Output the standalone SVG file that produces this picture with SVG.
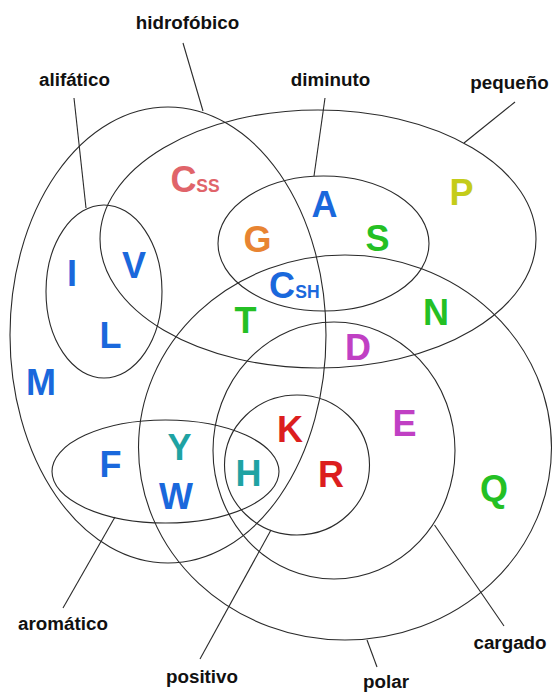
<svg xmlns="http://www.w3.org/2000/svg" width="553" height="692" viewBox="0 0 553 692">
  <style>
    .set { fill: none; stroke: #2a2a2a; stroke-width: 1.1; }
    .lead { fill: none; stroke: #2a2a2a; stroke-width: 1.1; }
    .lbl { font-family: "Liberation Sans", Arial, Helvetica, sans-serif; font-weight: bold; font-size: 18.8px; fill: #111; text-anchor: middle; }
    .aa { font-family: "Liberation Sans", Arial, Helvetica, sans-serif; font-weight: bold; font-size: 36px; text-anchor: middle; }
    .sub { font-family: "Liberation Sans", Arial, Helvetica, sans-serif; font-weight: bold; font-size: 17.5px; text-anchor: middle; }
    .blue { fill: #1a68dc; }
    .green { fill: #24c024; }
    .red { fill: #dc1e1e; }
    .pink { fill: #e0646a; }
    .orange { fill: #e88432; }
    .olive { fill: #c4cc1a; }
    .magenta { fill: #c040c4; }
    .teal { fill: #1fa3a3; }
  </style>
  <rect width="553" height="692" fill="#ffffff"/>

  <!-- property sets -->
  <g id="hidrofobico"><ellipse class="set" cx="168" cy="335" rx="158" ry="228"/></g>
  <g id="pequeno"><ellipse class="set" cx="318" cy="239" rx="218" ry="129"/></g>
  <g id="diminuto"><ellipse class="set" cx="323.5" cy="243.5" rx="105.5" ry="67.5"/></g>
  <g id="alifatico"><ellipse class="set" cx="104" cy="291.5" rx="58" ry="86.5"/></g>
  <g id="polar"><ellipse class="set" cx="345" cy="447.5" rx="206.5" ry="192.5"/></g>
  <g id="cargado"><ellipse class="set" cx="334" cy="450.5" rx="121" ry="128.5"/></g>
  <g id="positivo"><ellipse class="set" cx="297" cy="465" rx="72.5" ry="70"/></g>
  <g id="aromatico"><ellipse class="set" cx="165.5" cy="471.5" rx="113.5" ry="51.5"/></g>

  <!-- label leader lines -->
  <g id="connectors">
    <line class="lead" x1="183" y1="43" x2="203" y2="111"/>
    <line class="lead" x1="74" y1="98" x2="86" y2="208"/>
    <line class="lead" x1="325" y1="98" x2="314" y2="176"/>
    <line class="lead" x1="515" y1="102" x2="464" y2="143"/>
    <line class="lead" x1="115" y1="517" x2="63" y2="608"/>
    <line class="lead" x1="271" y1="530" x2="200" y2="659"/>
    <line class="lead" x1="367" y1="640" x2="377" y2="667"/>
    <line class="lead" x1="434.5" y1="525" x2="504" y2="626"/>
  </g>

  <!-- set labels -->
  <g id="labels">
    <text class="lbl" x="187.5" y="29">hidrofóbico</text>
    <text class="lbl" x="74.5" y="86">alifático</text>
    <text class="lbl" x="330.5" y="86">diminuto</text>
    <text class="lbl" x="509.5" y="89">pequeño</text>
    <text class="lbl" x="63" y="630">aromático</text>
    <text class="lbl" x="202" y="683">positivo</text>
    <text class="lbl" x="386" y="688">polar</text>
    <text class="lbl" x="510" y="649">cargado</text>
  </g>

  <!-- amino acids -->
  <g id="Css"><text class="aa pink" x="183.5" y="192">C</text><text class="sub pink" x="208" y="192">SS</text></g>
  <g id="A"><text class="aa blue" x="324.5" y="217">A</text></g>
  <g id="G"><text class="aa orange" x="257.5" y="252">G</text></g>
  <g id="S"><text class="aa green" x="377.5" y="251">S</text></g>
  <g id="P"><text class="aa olive" x="461.5" y="205">P</text></g>
  <g id="Csh"><text class="aa blue" x="282" y="298">C</text><text class="sub blue" x="307.5" y="298">SH</text></g>
  <g id="T"><text class="aa green" x="245.5" y="333">T</text></g>
  <g id="N"><text class="aa green" x="436" y="325">N</text></g>
  <g id="D"><text class="aa magenta" x="358" y="360">D</text></g>
  <g id="I"><text class="aa blue" x="72" y="286">I</text></g>
  <g id="V"><text class="aa blue" x="134" y="278">V</text></g>
  <g id="L"><text class="aa blue" x="110.5" y="348">L</text></g>
  <g id="M"><text class="aa blue" x="41" y="395">M</text></g>
  <g id="F"><text class="aa blue" x="110.5" y="477">F</text></g>
  <g id="Y"><text class="aa teal" x="179.5" y="460">Y</text></g>
  <g id="W"><text class="aa blue" x="176" y="509">W</text></g>
  <g id="H"><text class="aa teal" x="248.5" y="486">H</text></g>
  <g id="K"><text class="aa red" x="290" y="442">K</text></g>
  <g id="R"><text class="aa red" x="331" y="487">R</text></g>
  <g id="E"><text class="aa magenta" x="404.5" y="436">E</text></g>
  <g id="Q"><text class="aa green" x="494" y="501">Q</text></g>
</svg>
